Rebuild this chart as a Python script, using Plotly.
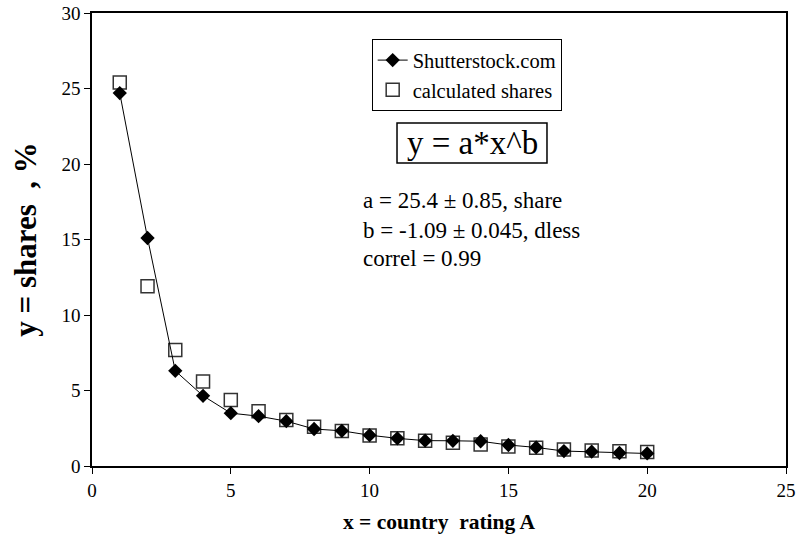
import plotly.graph_objects as go

x_rating = list(range(1, 21))
shutterstock = [24.7, 15.1, 6.3, 4.65, 3.5, 3.3, 2.97, 2.45, 2.33, 2.04,
                1.83, 1.68, 1.67, 1.64, 1.39, 1.23, 0.99, 0.95, 0.86, 0.83]
calculated = [25.4, 11.9, 7.68, 5.6, 4.37, 3.63, 3.05, 2.6, 2.32, 2.02,
              1.83, 1.68, 1.54, 1.42, 1.29, 1.21, 1.1, 1.03, 0.97, 0.93]

x_ticks = [0, 5, 10, 15, 20, 25]
y_ticks = [0, 5, 10, 15, 20, 25, 30]

FONT = "Liberation Serif, Times New Roman, serif"

fig = go.Figure()
fig.add_trace(go.Scatter(
    x=x_rating, y=calculated, mode="markers", name="calculated shares",
    marker=dict(symbol="square-open", size=13, color="#333333",
                line=dict(width=1.5, color="#333333")),
    legendrank=2,
))
fig.add_trace(go.Scatter(
    x=x_rating, y=shutterstock, mode="lines+markers", name="Shutterstock.com",
    line=dict(color="black", width=1),
    marker=dict(symbol="diamond", size=11, color="black"),
    legendrank=1,
))

fig.update_layout(
    width=796, height=536,
    margin=dict(l=92, r=10, t=13, b=70),
    paper_bgcolor="white", plot_bgcolor="white",
    font=dict(family=FONT, size=19, color="black"),
    showlegend=True,
    legend=dict(x=0.403, y=0.942, xanchor="left", yanchor="top",
                bordercolor="black", borderwidth=1, bgcolor="white",
                font=dict(family=FONT, size=20.5), itemwidth=30,
                tracegroupgap=0),
    xaxis=dict(range=[0, 25], tickvals=x_ticks, showgrid=False, zeroline=False,
               automargin=False,
               showline=True, linecolor="black", linewidth=1.5, mirror=True,
               ticks="outside", ticklen=6, tickcolor="black",
               tickfont=dict(family=FONT, size=19),
               title=dict(text="x = country\u00a0 rating A",
                          font=dict(family=FONT, size=21.5, weight="bold"),
                          standoff=14)),
    yaxis=dict(range=[0, 30], tickvals=y_ticks, showgrid=False, zeroline=False,
               automargin=False,
               showline=True, linecolor="black", linewidth=1.5, mirror=True,
               ticks="outside", ticklen=6, tickcolor="black",
               tickfont=dict(family=FONT, size=19),
               title=dict(text="y = shares\u00a0\u00a0, %",
                          font=dict(family=FONT, size=31, weight="bold"),
                          standoff=16)),
)

# box around the fitted formula
fig.add_shape(type="rect", xref="paper", yref="paper",
              x0=0.4395, x1=0.6556, y0=0.6689, y1=0.7572,
              line=dict(color="black", width=1.5), fillcolor="white", layer="above")
fig.add_annotation(xref="paper", yref="paper", x=0.5476, y=0.713,
                   xanchor="center", yanchor="middle",
                   text="y = a*x^b", showarrow=False,
                   font=dict(family=FONT, size=33))

lines = ["a = 25.4 \u00b1 0.85, share",
         "b = -1.09 \u00b1 0.045, dless",
         "correl = 0.99"]
ys = [0.586, 0.520, 0.457]
for t, yy in zip(lines, ys):
    fig.add_annotation(xref="paper", yref="paper", x=0.387, y=yy,
                       xanchor="left", yanchor="middle", text=t,
                       showarrow=False, font=dict(family=FONT, size=23))

fig.write_html("out.html", config={"displayModeBar": False},
               post_script="document.body.style.margin='0';")
